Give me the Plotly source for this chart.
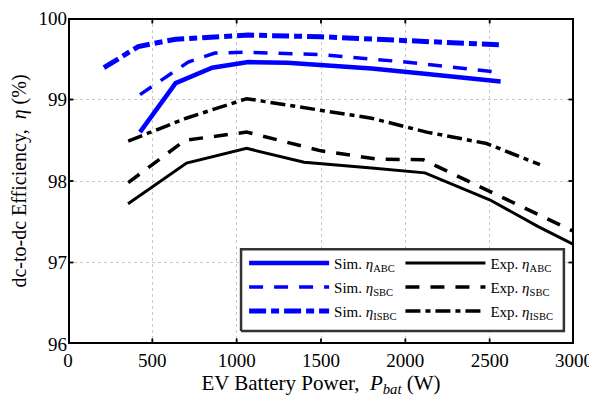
import plotly.graph_objects as go

# Axis ranges and ticks
x_range = [0, 3000]
y_range = [96, 100]
x_ticks = [0, 500, 1000, 1500, 2000, 2500, 3000]
y_ticks = [96, 97, 98, 99, 100]

# Simulated efficiencies
sim_abc_x = [427, 638, 855, 1069, 1300, 1800, 2100, 2565]
sim_abc_y = [98.60, 99.20, 99.39, 99.46, 99.45, 99.38, 99.32, 99.22]
sim_sbc_x = [427, 713, 871, 1069, 1500, 2000, 2565]
sim_sbc_y = [99.06, 99.46, 99.57, 99.58, 99.55, 99.46, 99.33]
sim_isbc_x = [213, 417, 638, 1069, 1500, 2000, 2565]
sim_isbc_y = [99.39, 99.65, 99.74, 99.79, 99.77, 99.73, 99.67]

# Experimental efficiencies
exp_abc_x = [356, 703, 1059, 1400, 1800, 2116, 2500, 2788, 3000]
exp_abc_y = [97.72, 98.22, 98.40, 98.23, 98.16, 98.10, 97.77, 97.44, 97.22]
exp_sbc_x = [357, 694, 1059, 1500, 1830, 2107, 3000]
exp_sbc_y = [97.98, 98.50, 98.60, 98.37, 98.27, 98.26, 97.38]
exp_isbc_x = [357, 700, 1059, 1400, 1800, 2126, 2482, 2798]
exp_isbc_y = [98.49, 98.77, 99.01, 98.90, 98.77, 98.60, 98.46, 98.20]

BLUE = "#0000ff"
BLACK = "#000000"
SERIF = "Liberation Serif"

W, H = 589, 401
ML, MR, MT, MB = 68, 15, 18, 57
PW, PH = W - ML - MR, H - MT - MB

traces = [
    ("Sim. <i>η</i><sub>ABC</sub>", sim_abc_x, sim_abc_y, BLUE, 4.5, "solid", "legend"),
    ("Sim. <i>η</i><sub>SBC</sub>", sim_sbc_x, sim_sbc_y, BLUE, 3.5, "14px,11px", "legend"),
    ("Sim. <i>η</i><sub>ISBC</sub>", sim_isbc_x, sim_isbc_y, BLUE, 5, "17px,5px,8px,5px", "legend"),
    ("Exp. <i>η</i><sub>ABC</sub>", exp_abc_x, exp_abc_y, BLACK, 3, "solid", "legend2"),
    ("Exp. <i>η</i><sub>SBC</sub>", exp_sbc_x, exp_sbc_y, BLACK, 3.5, "14px,11px", "legend2"),
    ("Exp. <i>η</i><sub>ISBC</sub>", exp_isbc_x, exp_isbc_y, BLACK, 3.5, "15px,5px,5px,5px", "legend2"),
]

fig = go.Figure()
for i, (name, x, y, c, w, d, lg) in enumerate(traces):
    fig.add_trace(go.Scatter(x=x, y=y, mode="lines", name=name, legend=lg,
                             legendgroup="g%d" % i,
                             line=dict(color=c, width=w, dash=d)))

def px_to_x(p):
    return p / PW * (x_range[1] - x_range[0])

def px_to_y(p):
    return p / PH * (y_range[1] - y_range[0])

def paper_x(f):
    return x_range[0] + f * (x_range[1] - x_range[0])

def paper_y(f):
    return y_range[0] + f * (y_range[1] - y_range[0])

# Legend box (white, framed) drawn over the data lines
bx0, bx1, by0, by1 = paper_x(0.342), paper_x(0.980), paper_y(0.04), paper_y(0.291)
fig.add_trace(go.Scatter(x=[bx0, bx1, bx1, bx0, bx0], y=[by0, by0, by1, by1, by0],
                         mode="lines", fill="toself", fillcolor="white",
                         line=dict(color="#333333", width=2.5),
                         showlegend=False, hoverinfo="skip"))

# Axes frame
fx = [x_range[0], x_range[1], x_range[1], x_range[0], x_range[0]]
fy = [y_range[0], y_range[0], y_range[1], y_range[1], y_range[0]]
fig.add_trace(go.Scatter(x=fx, y=fy, mode="lines", line=dict(color="black", width=4),
                         showlegend=False, hoverinfo="skip"))

# Inside tick marks (via one-sided error bars)
tl = 5.5
inv = dict(size=1, color="rgba(0,0,0,0)")
ebar = dict(type="data", symmetric=False, width=0, thickness=1.8, color="black")
fig.add_trace(go.Scatter(x=x_ticks, y=[y_range[0]] * len(x_ticks), mode="markers", marker=inv,
                         error_y=dict(array=[px_to_y(tl)] * len(x_ticks), arrayminus=[0] * len(x_ticks), **ebar),
                         showlegend=False, hoverinfo="skip", cliponaxis=False))
fig.add_trace(go.Scatter(x=x_ticks, y=[y_range[1]] * len(x_ticks), mode="markers", marker=inv,
                         error_y=dict(array=[0] * len(x_ticks), arrayminus=[px_to_y(tl)] * len(x_ticks), **ebar),
                         showlegend=False, hoverinfo="skip", cliponaxis=False))
fig.add_trace(go.Scatter(x=[x_range[0]] * len(y_ticks), y=y_ticks, mode="markers", marker=inv,
                         error_x=dict(array=[px_to_x(tl)] * len(y_ticks), arrayminus=[0] * len(y_ticks), **ebar),
                         showlegend=False, hoverinfo="skip", cliponaxis=False))
fig.add_trace(go.Scatter(x=[x_range[1]] * len(y_ticks), y=y_ticks, mode="markers", marker=inv,
                         error_x=dict(array=[0] * len(y_ticks), arrayminus=[px_to_x(tl)] * len(y_ticks), **ebar),
                         showlegend=False, hoverinfo="skip", cliponaxis=False))

ax = dict(showline=False, ticks="", showgrid=True, gridcolor="#c8c8c8",
          griddash="dot", gridwidth=1, zeroline=False, ticklabeloverflow="allow",
          automargin=False,
          tickfont=dict(family=SERIF, size=19, color="black"))

legend_common = dict(yanchor="top", xanchor="left", orientation="v",
                     bgcolor="rgba(0,0,0,0)", borderwidth=0,
                     font=dict(family=SERIF, size=15, color="black"),
                     itemwidth=80, tracegroupgap=1.5)

fig.update_layout(
    width=W, height=H,
    margin=dict(l=ML, r=MR, t=MT, b=MB, autoexpand=False),
    paper_bgcolor="white", plot_bgcolor="white",
    font=dict(family=SERIF, color="black", size=19),
    xaxis=dict(range=x_range, tickvals=x_ticks, ticklabelstandoff=3,
               title=dict(text="EV Battery Power,  <i>P</i><sub><i>bat</i></sub> (W)",
                          font=dict(family=SERIF, size=21), standoff=0), **ax),
    yaxis=dict(range=y_range, tickvals=y_ticks,
               title=dict(text="dc-to-dc Efficiency,  <i>η</i> (%)",
                          font=dict(family=SERIF, size=20), standoff=6), **ax),
    legend=dict(x=0.348, y=0.298, **legend_common),
    legend2=dict(x=0.657, y=0.298, **legend_common),
    showlegend=True,
)

fig.write_html("out.html")
